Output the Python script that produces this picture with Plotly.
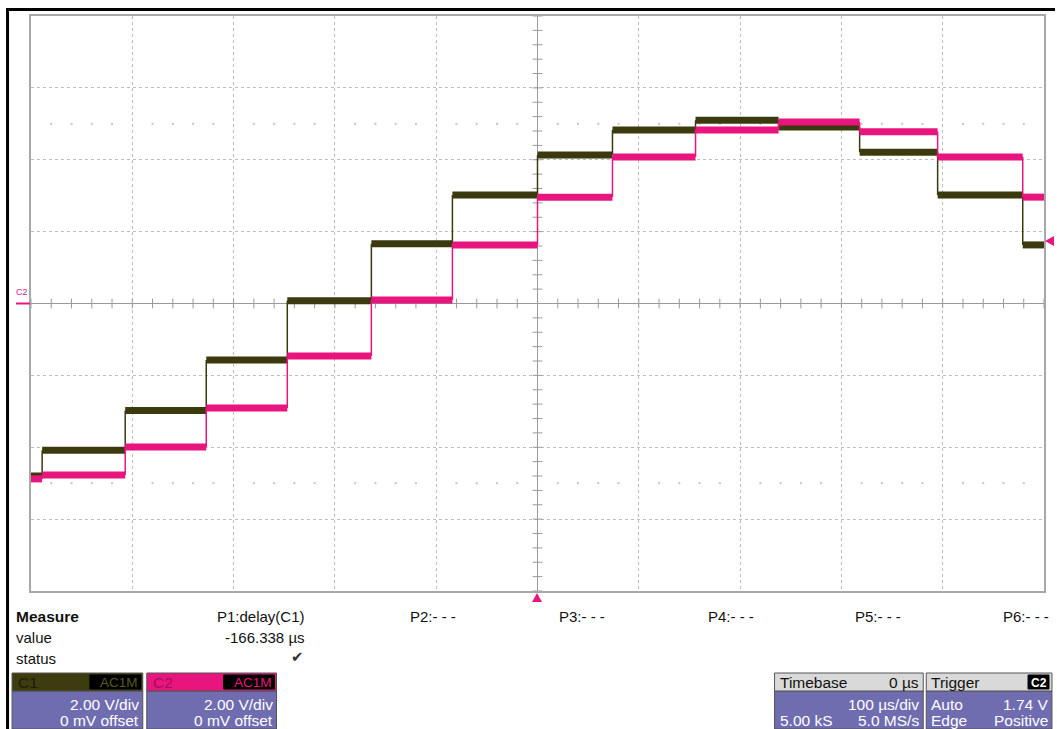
import plotly.graph_objects as go

# ---------------- data (read from the screen capture) ----------------
# time of each step edge, microseconds (trigger at 0 us)
step_times_us = [-489, -407, -327, -247, -164, -84, 0, 74, 156, 238, 318, 395, 479]
# plateau levels in volts: one level before the first edge, then one after each edge
c1_levels_v = [-4.80, -4.08, -2.98, -1.57, 0.08, 1.66, 3.02, 4.13, 4.83, 5.10, 4.91, 4.21, 3.02, 1.63]
c2_levels_v = [-4.88, -4.77, -3.99, -2.91, -1.46, 0.10, 1.63, 2.96, 4.08, 4.83, 5.05, 4.78, 4.08, 2.96]

time_range_us = [-500, 500]      # 100 us/div, 10 divisions
volt_range_v = [-8, 8]           # 2 V/div, 8 divisions
trigger_level_v = 1.74

measure_labels = ["P1:delay(C1)", "P2:- - -", "P3:- - -", "P4:- - -", "P5:- - -", "P6:- - -"]
measure_value = "-166.338 µs"

C1_COLOR = "#3b3a0f"
C2_COLOR = "#e8157e"
GRID = "#bdbdbd"
AXIS = "#9a9a9a"
BODY = "#6f6cb0"
FONT = "Liberation Sans, Arial, sans-serif"
FS = 15      # measure text size
BS = 15.5    # box text size

# plot area in pixels
L, R, T, B = 31, 1046, 16, 591
W, H = 1057, 729


def fx(x):
    return (x - L) / (R - L)


def fy(y):
    return (B - y) / (B - T)


def plateaus(times, levels):
    edges = [time_range_us[0]] + list(times) + [time_range_us[1]]
    xs, ys = [], []
    for i, lv in enumerate(levels):
        xs += [edges[i], edges[i + 1], None]
        ys += [lv, lv, None]
    return xs, ys


def risers(times, levels):
    xs, ys = [], []
    for i, t in enumerate(times):
        xs += [t, t, None]
        ys += [levels[i], levels[i + 1], None]
    return xs, ys


fig = go.Figure()

# center axes tick marks (1/5 division)
tick_t = [t for t in range(-500, 501, 20)]
tick_v = [v / 10 for v in range(-80, 81, 4)]
fig.add_trace(go.Scatter(x=tick_t, y=[0] * len(tick_t), mode="markers",
                         marker=dict(symbol="line-ns", size=7, line=dict(color=AXIS, width=1)),
                         hoverinfo="skip", showlegend=False))
fig.add_trace(go.Scatter(x=[0] * len(tick_v), y=tick_v, mode="markers",
                         marker=dict(symbol="line-ew", size=7, line=dict(color=AXIS, width=1)),
                         hoverinfo="skip", showlegend=False))
# faint dotted rows at +/- 2.5 divisions
dot_t = [t for t in range(-480, 500, 20) if t % 100 != 0]
for lv in (5, -5):
    fig.add_trace(go.Scatter(x=dot_t, y=[lv] * len(dot_t), mode="markers",
                             marker=dict(symbol="square", size=2, color="#c4c4c4"),
                             hoverinfo="skip", showlegend=False))

# traces
for levels, color in ((c1_levels_v, C1_COLOR), (c2_levels_v, C2_COLOR)):
    rx, ry = risers(step_times_us, levels)
    fig.add_trace(go.Scatter(x=rx, y=ry, mode="lines", line=dict(color=color, width=1.5),
                             hoverinfo="skip", showlegend=False))
    px_, py_ = plateaus(step_times_us, levels)
    fig.add_trace(go.Scatter(x=px_, y=py_, mode="lines", line=dict(color=color, width=7),
                             hoverinfo="skip", showlegend=False))

fig.update_xaxes(range=time_range_us, dtick=100, tick0=-500, showgrid=True, gridcolor=GRID,
                 griddash="dot", gridwidth=1, zeroline=True, zerolinecolor=AXIS, zerolinewidth=1,
                 showticklabels=False, ticks="", showline=True, linecolor="#a8a8a8",
                 linewidth=2, mirror=True, fixedrange=True)
fig.update_yaxes(range=volt_range_v, dtick=2, tick0=-8, showgrid=True, gridcolor=GRID,
                 griddash="dot", gridwidth=1, zeroline=True, zerolinecolor=AXIS, zerolinewidth=1,
                 showticklabels=False, ticks="", showline=True, linecolor="#a8a8a8",
                 linewidth=2, mirror=True, fixedrange=True)

shapes = []
ann = []


def rect(x0, y0, x1, y1, fill, line="#555555", lw=1):
    shapes.append(dict(type="rect", xref="paper", yref="paper", x0=fx(x0), x1=fx(x1),
                       y0=fy(y1), y1=fy(y0), fillcolor=fill, line=dict(color=line, width=lw),
                       layer="above"))


def text(x, y, s, anchor="left", size=13, color="#111111", bold=False, family=FONT):
    ann.append(dict(xref="paper", yref="paper", x=fx(x), y=fy(y), text=("<b>%s</b>" % s) if bold else s,
                    showarrow=False, xanchor=anchor, yanchor="middle",
                    font=dict(family=family, size=size, color=color)))


# black outer frame (left + top)
shapes.append(dict(type="line", xref="paper", yref="paper", x0=fx(7.5), x1=fx(7.5), y0=fy(729), y1=fy(9),
                   line=dict(color="black", width=3), layer="above"))
shapes.append(dict(type="line", xref="paper", yref="paper", x0=fx(6), x1=fx(1057), y0=fy(9.5), y1=fy(9.5),
                   line=dict(color="black", width=3), layer="above"))

# C2 ground marker on the left
text(22, 292, "C2", anchor="center", size=9, color=C2_COLOR)
shapes.append(dict(type="line", xref="paper", yref="paper", x0=fx(16), x1=fx(30), y0=fy(303.5), y1=fy(303.5),
                   line=dict(color=C2_COLOR, width=2), layer="above"))

# trigger position marker (bottom) and trigger level marker (right)
shapes.append(dict(type="path", xref="paper", yref="paper",
                   path="M %f %f L %f %f L %f %f Z" % (fx(533), fy(602), fx(543), fy(602), fx(538), fy(593)),
                   fillcolor=C2_COLOR, line=dict(color=C2_COLOR, width=0), layer="above"))
ty = T + (volt_range_v[1] - trigger_level_v) / (volt_range_v[1] - volt_range_v[0]) * (B - T)
shapes.append(dict(type="path", xref="paper", yref="paper",
                   path="M %f %f L %f %f L %f %f Z" % (fx(1047), fy(ty), fx(1056), fy(ty - 5), fx(1056), fy(ty + 5)),
                   fillcolor=C2_COLOR, line=dict(color=C2_COLOR, width=0), layer="above"))

# measure table
text(14, 616, "Measure", size=FS + 0.5, bold=True)
text(14, 637, "value", size=FS)
text(14, 658, "status", size=FS)
text(308, 616, measure_labels[0], anchor="right", size=FS)
text(308, 637, measure_value, anchor="right", size=FS)
text(298, 657, "✔", anchor="center", size=15, color="#333333", family="DejaVu Sans")
for lab, xx in zip(measure_labels[1:], [409, 558, 707, 855, 1003]):
    text(xx, 616, lab, size=FS)

# channel boxes
for x0, x1, head, name, namecol, labcol in ((12, 143, "#3d3c0e", "C1", "#1c1c04", "#5a5a18"),
                                            (147, 277, C2_COLOR, "C2", "#a80d58", C2_COLOR)):
    rect(x0, 691, x1, 729, BODY)
    rect(x0, 673, x1, 691, head)
    rect(x1 - 53, 675, x1 - 2, 689, "#000000", line="#000000")
    text(x0 + 4, 682, name, size=BS, color=namecol)
    text(x1 - 3, 682.5, "AC1M", anchor="right", size=13.5, color=labcol)
    text(x1 - 2, 704, "2.00 V/div", anchor="right", size=BS, color="white")
    text(x1 - 2, 720, "0 mV offset", anchor="right", size=BS, color="white")

# timebase box
rect(776, 691, 925, 729, BODY)
rect(776, 673, 925, 691, "#d9d9d9")
text(779, 682, "Timebase", size=BS)
text(923, 682, "0 µs", anchor="right", size=BS)
text(923, 704, "100 µs/div", anchor="right", size=BS, color="white")
text(779, 720, "5.00 kS", size=BS, color="white")
text(923, 720, "5.0 MS/s", anchor="right", size=BS, color="white")

# trigger box
rect(928, 691, 1054, 729, BODY)
rect(928, 673, 1054, 691, "#d9d9d9")
rect(1030, 675, 1051, 689, "#000000", line="#000000")
text(931, 682, "Trigger", size=BS)
text(1040.5, 682.5, "C2", anchor="center", size=12, color="white", bold=True)
text(931, 704, "Auto", size=BS, color="white")
text(1052, 704, "1.74 V", anchor="right", size=BS, color="white")
text(931, 720, "Edge", size=BS, color="white")
text(1052, 720, "Positive", anchor="right", size=BS, color="white")

fig.update_layout(width=W, height=H, autosize=False,
                  margin=dict(l=L, r=W - R, t=T, b=H - B, pad=0),
                  paper_bgcolor="white", plot_bgcolor="white",
                  shapes=shapes, annotations=ann, showlegend=False,
                  font=dict(family=FONT))

fig.write_html("out.html", config={"displayModeBar": False},
               post_script="document.body.style.margin='0';")
